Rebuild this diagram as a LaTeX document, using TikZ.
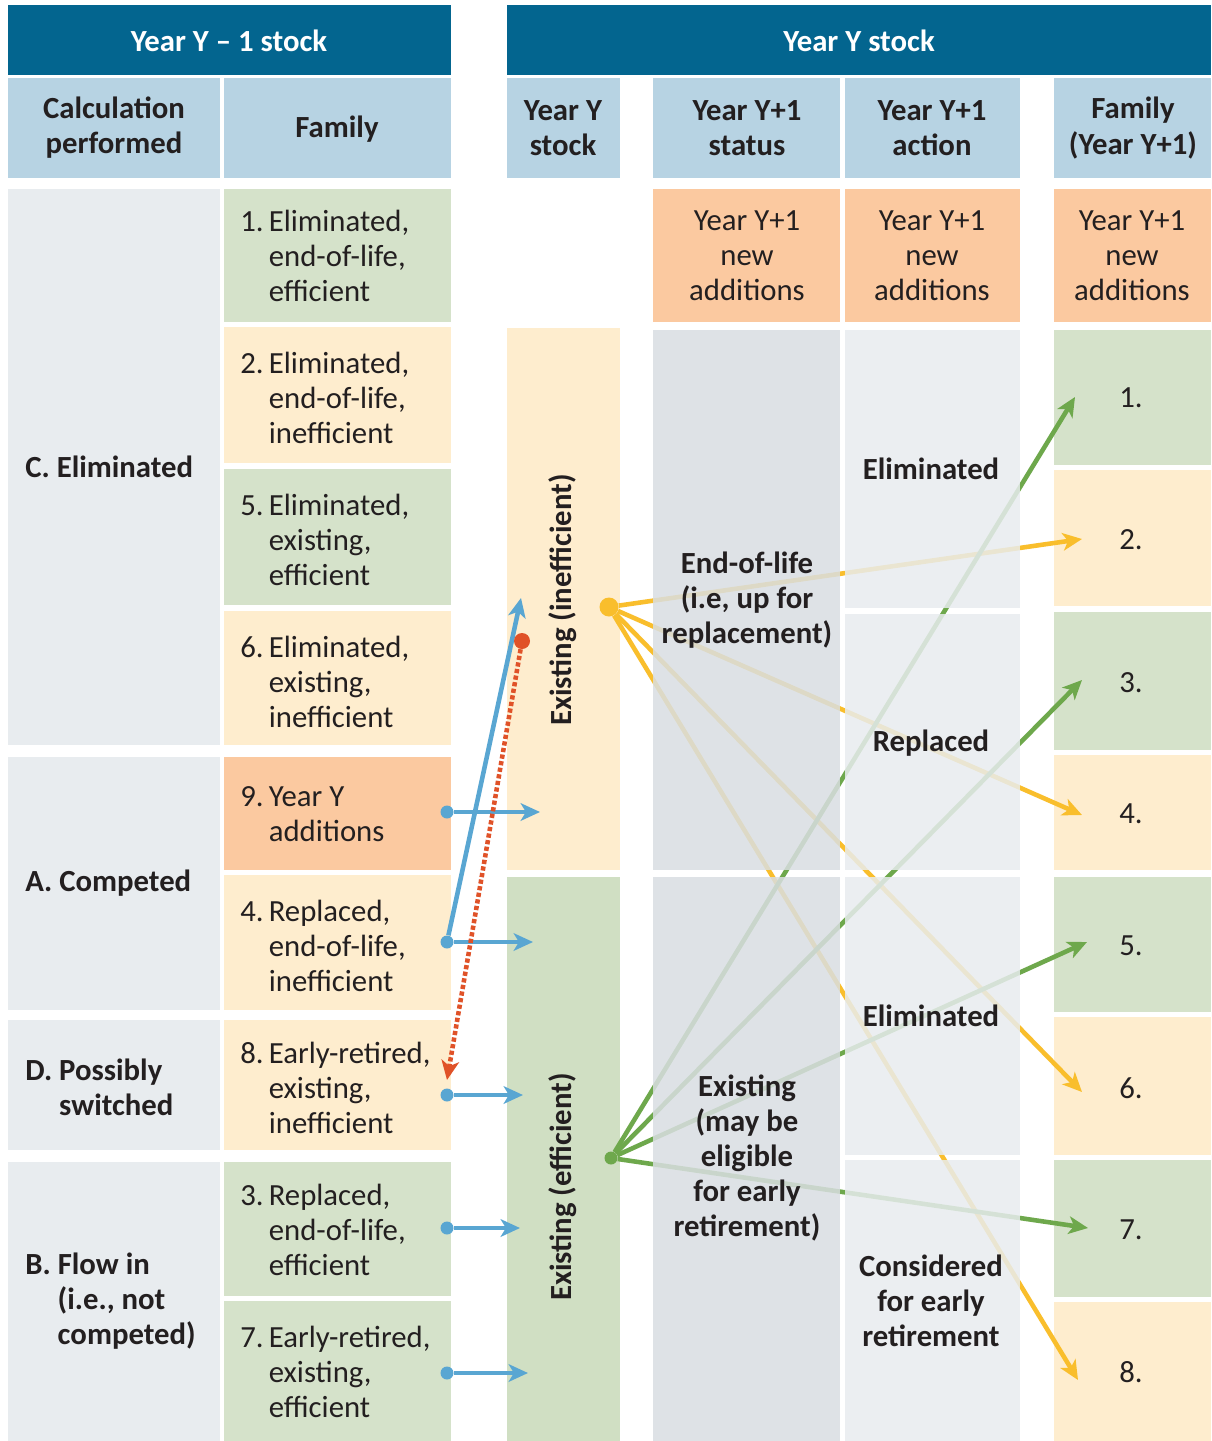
\documentclass[tikz,border=0pt]{standalone}
\usepackage{fontspec}
\setmainfont{Carlito}
\usetikzlibrary{arrows.meta}
\usetikzlibrary{positioning}

\definecolor{hdark}{RGB}{3,101,143}
\definecolor{hlight}{RGB}{183,211,227}
\definecolor{pgray}{RGB}{232,236,239}
\definecolor{sgray}{RGB}{217,222,226}
\definecolor{pgreen}{RGB}{213,226,202}
\definecolor{pyellow}{RGB}{254,237,206}
\definecolor{porange}{RGB}{251,201,160}
\definecolor{sgreen}{RGB}{208,223,195}
\definecolor{ablue}{RGB}{89,166,210}
\definecolor{ared}{RGB}{224,82,40}
\definecolor{ayellow}{RGB}{249,190,44}
\definecolor{agreen}{RGB}{110,168,76}
\definecolor{txt}{RGB}{35,31,32}

\begin{document}
\begin{tikzpicture}[x=0.02cm,y=-0.02cm,
  every node/.style={inner sep=0pt,text=txt,font=\fontsize{17.5}{20}\selectfont},
  hd/.style={font=\fontsize{17.5}{20}\selectfont\bfseries,text=white},
  sub/.style={font=\fontsize{17.5}{20}\selectfont\bfseries,align=center},
  lab/.style={align=left,anchor=west},
  ctr/.style={align=center},
  bdot/.style={circle,fill=ablue,minimum size=0.26cm},
  flow/.style={line width=2.6pt,-{Stealth[length=11pt,width=10pt,inset=3pt]}},
  fade/.style={fill opacity=0.85}]

  \fill[white] (0,0) rectangle (1211,1441);
  \useasboundingbox (0,0) rectangle (1211,1441);

  % top headers
  \fill[hdark] (8,5) rectangle (451,75);
  \fill[hdark] (507,5) rectangle (1211,75);
  \node[hd] (h1) at (229,41) {Year Y – 1 stock};
  \node[hd] (h2) at (859,41) {Year Y stock};

  \fill[hlight] (8,78) rectangle (220,178);
  \fill[hlight] (224,78) rectangle (451,178);
  \fill[hlight] (507,78) rectangle (620,178);
  \fill[hlight] (653,78) rectangle (840,178);
  \fill[hlight] (845,78) rectangle (1020,178);
  \fill[hlight] (1054,78) rectangle (1211,178);
  \node[sub] (c1) at (114,128) {Calculation\\performed};
  \node[sub] (c2) at (337,129) {Family};
  \node[sub] (c3) at (563,128) {Year Y\\stock};
  \node[sub] (c4) at (747,128) {Year Y+1\\status};
  \node[sub] (c5) at (932,128) {Year Y+1\\action};
  \node[sub] (c6) at (1133,128) {Family\\(Year Y+1)};

  % calculation column
  \fill[pgray] (8,189) rectangle (220,745);
  \fill[pgray] (8,757) rectangle (220,1010);
  \fill[pgray] (8,1020) rectangle (220,1150);
  \fill[pgray] (8,1162) rectangle (220,1441);
  \node[lab,sub,align=left] (cE) at (25,467) {C. Eliminated};
  \node[lab,sub,align=left] (cA) at (25,883) {A. Competed};
  \node[lab,sub,align=left] (cD) at (25,1087) {D. Possibly\\\hphantom{D. }switched};
  \node[lab,sub,align=left] (cB) at (25,1301) {B. Flow in\\\hphantom{B. }(i.e., not\\\hphantom{B. }competed)};

  % family column
  \fill[pgreen] (224,189) rectangle (451,322);
  \fill[pyellow] (224,327) rectangle (451,463);
  \fill[pgreen] (224,469) rectangle (451,605);
  \fill[pyellow] (224,611) rectangle (451,745);
  \fill[porange] (224,757) rectangle (451,870);
  \fill[pyellow] (224,875) rectangle (451,1010);
  \fill[pyellow] (224,1020) rectangle (451,1150);
  \fill[pgreen] (224,1162) rectangle (451,1296);
  \fill[pgreen] (224,1301) rectangle (451,1441);
  \node[lab] (f1) at (240,256) {1.\,Eliminated,\\\hphantom{1.\,}end-of-life,\\\hphantom{1.\,}efficient};
  \node[lab] (f2) at (240,398) {2.\,Eliminated,\\\hphantom{2.\,}end-of-life,\\\hphantom{2.\,}inefficient};
  \node[lab] (f5) at (240,540) {5.\,Eliminated,\\\hphantom{5.\,}existing,\\\hphantom{5.\,}efficient};
  \node[lab] (f6) at (240,682) {6.\,Eliminated,\\\hphantom{6.\,}existing,\\\hphantom{6.\,}inefficient};
  \node[lab] (f9) at (240,814) {9.\,Year Y\\\hphantom{9.\,}additions};
  \node[lab] (f4) at (240,946) {4.\,Replaced,\\\hphantom{4.\,}end-of-life,\\\hphantom{4.\,}inefficient};
  \node[lab] (f8) at (240,1088) {8.\,Early-retired,\\\hphantom{8.\,}existing,\\\hphantom{8.\,}inefficient};
  \node[lab] (f3) at (240,1230) {3.\,Replaced,\\\hphantom{3.\,}end-of-life,\\\hphantom{3.\,}efficient};
  \node[lab] (f7) at (240,1372) {7.\,Early-retired,\\\hphantom{7.\,}existing,\\\hphantom{7.\,}efficient};

  % year Y stock column
  \fill[pyellow] (507,328) rectangle (620,870);
  \fill[sgreen] (507,877) rectangle (620,1441);
  \node[sub,rotate=90] (sI) at (563,600) {Existing (inefficient)};
  \node[sub,rotate=90] (sE) at (563,1187) {Existing (efficient)};

  % new additions row
  \fill[porange] (653,189) rectangle (840,322);
  \fill[porange] (845,189) rectangle (1020,322);
  \fill[porange] (1054,189) rectangle (1211,322);
  \node[ctr] (na1) at (747,256) {Year Y+1\\new\\additions};
  \node[ctr] (na2) at (932,256) {Year Y+1\\new\\additions};
  \node[ctr] (na3) at (1132,256) {Year Y+1\\new\\additions};

  % family year Y+1 column
  \fill[pgreen] (1054,330) rectangle (1211,465);
  \fill[pyellow] (1054,470) rectangle (1211,606);
  \fill[pgreen] (1054,612) rectangle (1211,750);
  \fill[pyellow] (1054,755) rectangle (1211,870);
  \fill[pgreen] (1054,877) rectangle (1211,1012);
  \fill[pyellow] (1054,1017) rectangle (1211,1155);
  \fill[pgreen] (1054,1160) rectangle (1211,1297);
  \fill[pyellow] (1054,1302) rectangle (1211,1441);
  \node (n1) at (1131,398) {1.};
  \node (n2) at (1131,540) {2.};
  \node (n3) at (1131,683) {3.};
  \node (n4) at (1131,814) {4.};
  \node (n5) at (1131,946) {5.};
  \node (n6) at (1131,1088) {6.};
  \node (n7) at (1131,1230) {7.};
  \node (n8) at (1131,1372) {8.};

  % flows into year Y stock
  \node[bdot] (b9) at (447,812) {};
  \node[bdot] (b4) at (447,942) {};
  \node[bdot] (b8) at (447,1095) {};
  \node[bdot] (b3) at (447,1228) {};
  \node[bdot] (b7) at (447,1373) {};
  \coordinate (t9) at (540,812);
  \coordinate (t4) at (533,942);
  \coordinate (t4i) at (521,598);
  \coordinate (t8) at (523,1095);
  \coordinate (t3) at (520,1228);
  \coordinate (t7) at (528,1373);
  \draw[flow,ablue] (b9) -- (t9);
  \draw[flow,ablue] (b4) -- (t4);
  \draw[flow,ablue] (b4) -- (t4i);
  \draw[flow,ablue] (b8) -- (t8);
  \draw[flow,ablue] (b3) -- (t3);
  \draw[flow,ablue] (b7) -- (t7);

  \node[circle,fill=ared,minimum size=0.32cm] (rd) at (522,641) {};
  \coordinate (t8r) at (447,1080);
  \draw[flow,ared,dash pattern=on 2.4pt off 1.4pt] (rd) -- (t8r);

  % flows out of year Y stock
  \node[circle,fill=ayellow,minimum size=0.38cm] (yd) at (609,607) {};
  \coordinate (y2) at (1082,539);
  \coordinate (y4) at (1082,815);
  \coordinate (y6) at (1082,1092);
  \coordinate (y8) at (1078,1380);
  \draw[flow,ayellow] (yd) -- (y2);
  \draw[flow,ayellow] (yd) -- (y4);
  \draw[flow,ayellow] (yd) -- (y6);
  \draw[flow,ayellow] (yd) -- (y8);

  \node[circle,fill=agreen,minimum size=0.26cm] (gd) at (611,1158) {};
  \coordinate (g1) at (1075,397);
  \coordinate (g3) at (1082,680);
  \coordinate (g5) at (1087,942);
  \coordinate (g7) at (1088,1228);
  \draw[flow,agreen] (gd) -- (g1);
  \draw[flow,agreen] (gd) -- (g3);
  \draw[flow,agreen] (gd) -- (g5);
  \draw[flow,agreen] (gd) -- (g7);

  % status and action panels over the flows
  \fill[sgray,fade] (653,330) rectangle (840,870);
  \fill[sgray,fade] (653,877) rectangle (840,1441);
  \fill[pgray,fade] (845,330) rectangle (1020,608);
  \fill[pgray,fade] (845,614) rectangle (1020,870);
  \fill[pgray,fade] (845,877) rectangle (1020,1155);
  \fill[pgray,fade] (845,1160) rectangle (1020,1441);
  \node[sub] (st1) at (747,600) {End-of-life\\(i.e, up for\\replacement)};
  \node[sub] (st2) at (747,1158) {Existing\\(may be\\eligible\\for early\\retirement)};
  \node[sub] (ac1) at (931,469) {Eliminated};
  \node[sub] (ac2) at (931,743) {Replaced};
  \node[sub] (ac3) at (931,1016) {Eliminated};
  \node[sub] (ac4) at (931,1301) {Considered\\for early\\retirement};
\end{tikzpicture}
\end{document}
